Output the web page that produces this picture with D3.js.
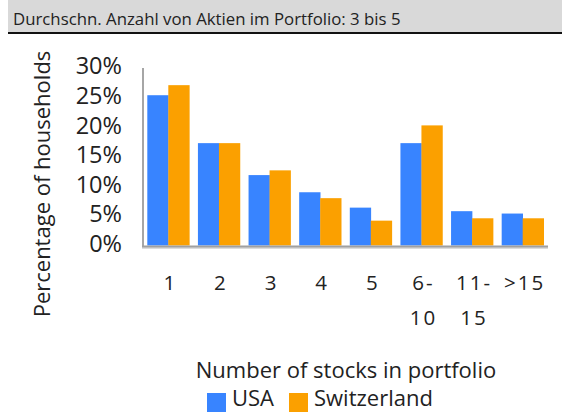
<!DOCTYPE html>
<html><head><meta charset="utf-8">
<script src="https://cdn.jsdelivr.net/npm/d3@7"></script>
<style>body{margin:0;background:#fff}svg{display:block}text{font-family:"Open Sans",sans-serif;fill:#222}</style>
</head><body>
<svg id="c" width="562" height="412"></svg>
<script>
const categories = ["1","2","3","4","5","6-\n10","11-\n15",">15"];
const usa = [25.4, 17.3, 11.9, 9.0, 6.4, 17.3, 5.8, 5.4];
const switzerland = [27.1, 17.3, 12.7, 8.0, 4.2, 20.3, 4.6, 4.6];
const seriesNames = ["USA","Switzerland"];
const yTicks = [0,5,10,15,20,25,30];
const colors = ["#3884ff","#fba000"];
const title = "Durchschn. Anzahl von Aktien im Portfolio: 3 bis 5";

const svg = d3.select("#c");
// header
svg.append("rect").attr("x",8).attr("y",0).attr("width",554).attr("height",33).attr("fill","#d9d9d9");
svg.append("rect").attr("x",8).attr("y",32).attr("width",554).attr("height",2).attr("fill","#111");
svg.append("text").attr("x",13).attr("y",25).attr("font-size",16.8).text(title);

const x = d3.scaleBand().domain(categories).range([143,548]).paddingInner(0.17).paddingOuter(0.085);
const xs = d3.scaleBand().domain(seriesNames).range([0,x.bandwidth()]);
const y = d3.scaleLinear().domain([0,30]).range([245.5,68]);

const data = categories.map((c,i)=>({c, vals:[usa[i],switzerland[i]]}));
const g = svg.append("g");
data.forEach(d=>{
  d.vals.forEach((v,j)=>{
    g.append("rect").attr("x",x(d.c)+xs(seriesNames[j])).attr("width",xs.bandwidth()+0.3)
      .attr("y",y(v)).attr("height",y(0)-y(v)).attr("fill",colors[j]);
  });
});

// axes
svg.append("line").attr("x1",143).attr("x2",143).attr("y1",68).attr("y2",247).attr("stroke","#a6a6a6").attr("stroke-width",2);
svg.append("line").attr("x1",142).attr("x2",548).attr("y1",247.5).attr("y2",247.5).attr("stroke","#dcdcdc").attr("stroke-width",3);
svg.append("line").attr("x1",142).attr("x2",548).attr("y1",246.5).attr("y2",246.5).attr("stroke","#a0a0a0").attr("stroke-width",2);

// y tick labels
svg.append("g").selectAll("text").data(yTicks).join("text")
  .attr("x",122).attr("y",d=>y(d)-2).attr("dy","0.36em").attr("text-anchor","end")
  .attr("font-size",23.5).text(d=>d+"%");

// x tick labels
const xl = svg.append("g").selectAll("text").data(categories).join("text")
  .attr("text-anchor","middle").attr("font-size",20.5).attr("letter-spacing","2px");
xl.each(function(c){
  const lines = c.split("\n");
  d3.select(this).selectAll("tspan").data(lines).join("tspan")
    .attr("x",x(c)+x.bandwidth()/2+2).attr("y",(l,i)=>290+i*35).text(l=>l);
});

// y title
svg.append("text").attr("transform","translate(50,184) rotate(-90)").attr("text-anchor","middle")
  .attr("font-size",22).text("Percentage of households");

// x title
svg.append("text").attr("x",346).attr("y",378).attr("text-anchor","middle").attr("font-size",22).text("Number of stocks in portfolio");

// legend
const legX = [207, 289];
seriesNames.forEach((n,j)=>{
  svg.append("rect").attr("x",legX[j]).attr("y",393).attr("width",19).attr("height",19).attr("fill",colors[j]);
  svg.append("text").attr("x",legX[j]+25).attr("y",405.5).attr("font-size",22).text(n);
});
</script>
</body></html>
